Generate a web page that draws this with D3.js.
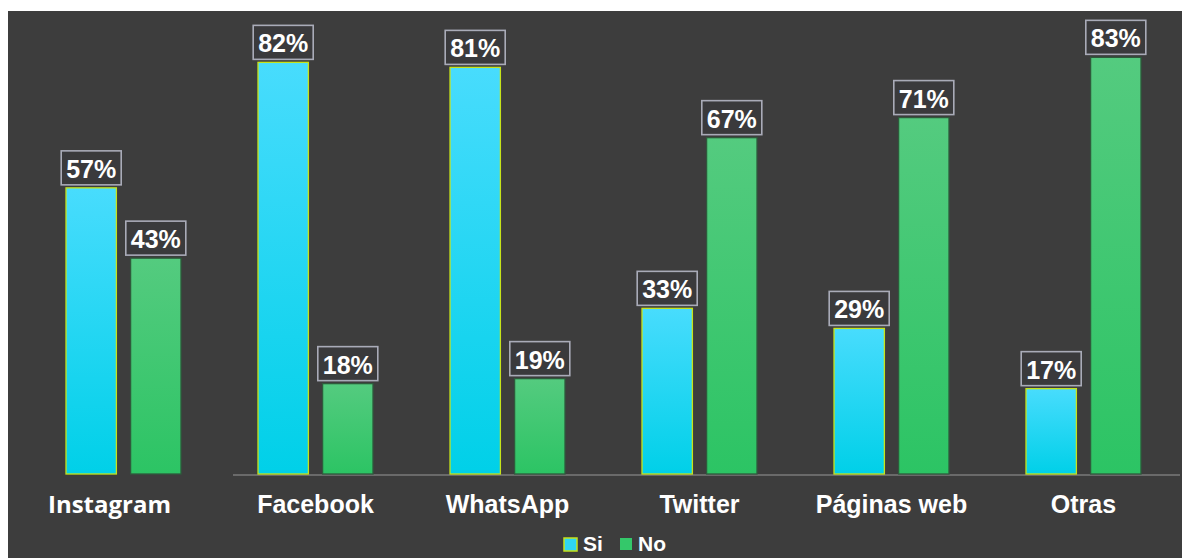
<!DOCTYPE html>
<html>
<head>
<meta charset="utf-8">
<script src="https://cdn.jsdelivr.net/npm/d3@7"></script>
<style>
  body { margin: 0; background: #ffffff; }
  svg { display: block; }
</style>
</head>
<body>
<svg id="chart" width="1182" height="558"></svg>
<script>
const categories = ['Instagram', 'Facebook', 'WhatsApp', 'Twitter', 'Páginas web', 'Otras'];
const seriesNames = ['Si', 'No'];
const siValues = [57, 82, 81, 33, 29, 17];
const noValues = [43, 18, 19, 67, 71, 83];

const width = 1182, height = 558;
const baseline = 474;

const svg = d3.select('#chart');

const defs = svg.append('defs');
let gradSi = defs.append('linearGradient').attr('id', 'gradSi')
    .attr('x1', 0).attr('y1', 0).attr('x2', 0).attr('y2', 1);
gradSi.append('stop').attr('offset', '0%').attr('stop-color', '#48dcfd');
gradSi.append('stop').attr('offset', '100%').attr('stop-color', '#00d0e8');
let gradNo = defs.append('linearGradient').attr('id', 'gradNo')
    .attr('x1', 0).attr('y1', 0).attr('x2', 0).attr('y2', 1);
gradNo.append('stop').attr('offset', '0%').attr('stop-color', '#54cb7f');
gradNo.append('stop').attr('offset', '100%').attr('stop-color', '#2cc464');

// dark panel
svg.append('rect')
    .attr('x', 8).attr('y', 11)
    .attr('width', width - 8).attr('height', height - 11)
    .attr('fill', '#3d3d3d');

const x = d3.scaleBand()
    .domain(categories)
    .range([27.5, 1179.5]);

const xInner = d3.scaleBand()
    .domain(seriesNames)
    .range([0, 115])
    .paddingInner(0.22);

const y = d3.scaleLinear()
    .domain([0, 100])
    .range([baseline, baseline - 502]);

const fills = { Si: 'url(#gradSi)', No: 'url(#gradNo)' };
const strokes = { Si: '#c6e21a', No: '#2f5a3c' };

const data = categories.map((c, i) => ({
    category: c,
    values: [
        { series: 'Si', value: siValues[i] },
        { series: 'No', value: noValues[i] }
    ]
}));

// axis line (not under Instagram)
svg.append('line')
    .attr('x1', 233).attr('x2', 1180)
    .attr('y1', baseline + 1).attr('y2', baseline + 1)
    .attr('stroke', '#7a7a7a').attr('stroke-width', 1.5);

let groups = svg.append('g')
    .selectAll('g')
    .data(data)
    .enter()
    .append('g')
    .attr('transform', d => `translate(${x(d.category) + (x.bandwidth() - 115) / 2},0)`);

let bars = groups.selectAll('g.bar')
    .data(d => d.values)
    .enter()
    .append('g')
    .attr('class', 'bar');

bars.append('rect')
    .attr('x', d => xInner(d.series))
    .attr('y', d => y(d.value))
    .attr('width', xInner.bandwidth())
    .attr('height', d => baseline - y(d.value))
    .attr('fill', d => fills[d.series])
    .attr('stroke', d => strokes[d.series])
    .attr('stroke-width', 1.3);

// value labels in boxes
const boxW = 60, boxH = 34, gap = 3;
bars.append('rect')
    .attr('x', d => xInner(d.series) + xInner.bandwidth() / 2 - boxW / 2)
    .attr('y', d => y(d.value) - gap - boxH)
    .attr('width', boxW)
    .attr('height', boxH)
    .attr('fill', '#3a3a3c')
    .attr('stroke', '#a9abb8')
    .attr('stroke-width', 1.6);

bars.append('text')
    .attr('x', d => xInner(d.series) + xInner.bandwidth() / 2)
    .attr('y', d => y(d.value) - gap - 7)
    .attr('text-anchor', 'middle')
    .attr('font-family', 'Liberation Sans, Arial, sans-serif')
    .attr('font-weight', 'bold')
    .attr('font-size', 25)
    .attr('fill', '#ffffff')
    .text(d => d.value + '%');

// category labels
svg.append('g')
    .selectAll('text')
    .data(categories)
    .enter()
    .append('text')
    .attr('x', d => x(d) + x.bandwidth() / 2 - (d === 'Instagram' ? 14 : 0))
    .attr('y', 513)
    .attr('text-anchor', 'middle')
    .attr('font-family', d => d === 'Instagram' ? 'Open Sans, Noto Sans, sans-serif' : 'Liberation Sans, Arial, sans-serif')
    .attr('font-weight', 'bold')
    .attr('font-size', d => d === 'Instagram' ? 24 : 25)
    .attr('fill', '#ffffff')
    .text(d => d);

// legend
const legendItems = [
    { name: 'Si', x: 564, w: 13, fill: '#2fd6f2', stroke: '#c6e21a' },
    { name: 'No', x: 620, w: 12, fill: '#34c86a', stroke: 'none' }
];
let legend = svg.append('g')
    .selectAll('g')
    .data(legendItems)
    .enter()
    .append('g')
    .attr('transform', d => `translate(${d.x},0)`);
legend.append('rect')
    .attr('y', 538)
    .attr('width', d => d.w).attr('height', d => d.w)
    .attr('fill', d => d.fill)
    .attr('stroke', d => d.stroke)
    .attr('stroke-width', 1.5);
legend.append('text')
    .attr('x', d => d.w + 6)
    .attr('y', 551)
    .attr('font-family', 'Liberation Sans, Arial, sans-serif')
    .attr('font-weight', 'bold')
    .attr('font-size', 21)
    .attr('fill', '#ffffff')
    .text(d => d.name);
</script>
</body>
</html>
